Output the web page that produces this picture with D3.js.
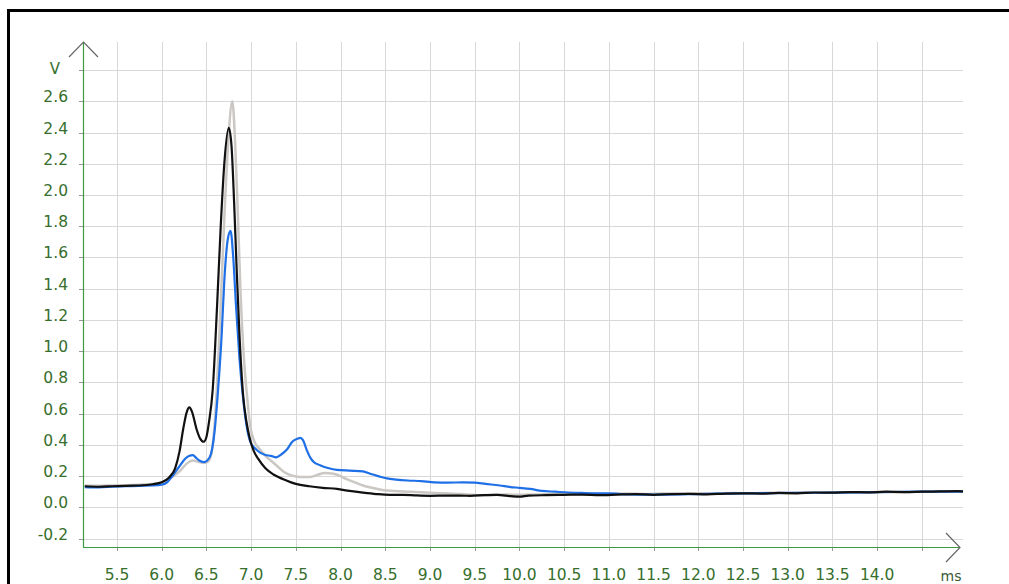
<!DOCTYPE html>
<html>
<head>
<meta charset="utf-8">
<script src="https://cdn.jsdelivr.net/npm/d3@7"></script>
<style>
  body { margin: 0; background: #fff; }
  svg { display: block; }
</style>
</head>
<body>
<svg id="chart" width="1009" height="584"></svg>
<script>
// tick labels
var xTicks = [5.5, 6.0, 6.5, 7.0, 7.5, 8.0, 8.5, 9.0, 9.5, 10.0, 10.5, 11.0, 11.5, 12.0, 12.5, 13.0, 13.5, 14.0];
var xGrid = [5.5, 6.0, 6.5, 7.0, 7.5, 8.0, 8.5, 9.0, 9.5, 10.0, 10.5, 11.0, 11.5, 12.0, 12.5, 13.0, 13.5, 14.0, 14.5];
var yTicks = [-0.2, 0.0, 0.2, 0.4, 0.6, 0.8, 1.0, 1.2, 1.4, 1.6, 1.8, 2.0, 2.2, 2.4, 2.6];
var yGrid = [-0.2, 0.0, 0.2, 0.4, 0.6, 0.8, 1.0, 1.2, 1.4, 1.6, 1.8, 2.0, 2.2, 2.4, 2.6, 2.8];

// traces [ms, V]
var grayTrace = [[5.14,0.14],[5.3,0.138],[5.45,0.14],[5.6,0.142],[5.75,0.145],[5.9,0.15],[6.0,0.16],[6.1,0.19],[6.2,0.23],[6.28,0.28],[6.35,0.30],[6.42,0.29],[6.47,0.285],[6.51,0.29],[6.55,0.33],[6.58,0.45],[6.62,0.80],[6.66,1.3],[6.70,1.85],[6.74,2.3],[6.79,2.60],[6.82,2.35],[6.85,1.9],[6.88,1.4],[6.92,0.95],[6.96,0.68],[6.99,0.52],[7.03,0.43],[7.10,0.37],[7.16,0.33],[7.22,0.30],[7.30,0.26],[7.36,0.23],[7.45,0.205],[7.55,0.195],[7.66,0.195],[7.75,0.21],[7.82,0.22],[7.92,0.215],[8.0,0.2],[8.07,0.18],[8.16,0.16],[8.25,0.14],[8.35,0.125],[8.48,0.11],[8.6,0.105],[8.78,0.10],[8.95,0.095],[9.15,0.09],[9.35,0.085],[9.53,0.078],[9.7,0.08],[9.85,0.082],[10.0,0.08],[10.2,0.082],[10.4,0.085],[10.6,0.083],[10.8,0.087],[11.0,0.086],[11.2,0.088],[11.4,0.085],[11.6,0.089],[11.8,0.087],[12.0,0.09],[12.2,0.088],[12.4,0.092],[12.6,0.09],[12.8,0.093],[13.0,0.091],[13.2,0.095],[13.4,0.093],[13.6,0.097],[13.8,0.095],[14.0,0.099],[14.2,0.097],[14.4,0.1],[14.6,0.1],[14.8,0.103],[14.96,0.1]];

var blueTrace = [[5.14,0.13],[5.3,0.128],[5.45,0.132],[5.6,0.135],[5.75,0.138],[5.9,0.14],[6.0,0.145],[6.06,0.16],[6.12,0.2],[6.17,0.24],[6.22,0.28],[6.26,0.31],[6.31,0.33],[6.35,0.335],[6.38,0.32],[6.42,0.30],[6.47,0.29],[6.51,0.30],[6.55,0.34],[6.59,0.48],[6.63,0.75],[6.67,1.1],[6.70,1.45],[6.74,1.72],[6.77,1.77],[6.80,1.6],[6.83,1.3],[6.87,0.95],[6.91,0.70],[6.95,0.52],[6.99,0.42],[7.04,0.38],[7.10,0.35],[7.16,0.335],[7.22,0.33],[7.28,0.32],[7.34,0.34],[7.40,0.37],[7.46,0.42],[7.52,0.44],[7.55,0.445],[7.58,0.43],[7.62,0.37],[7.66,0.32],[7.70,0.29],[7.77,0.27],[7.87,0.25],[7.96,0.24],[8.1,0.235],[8.25,0.23],[8.33,0.215],[8.42,0.20],[8.52,0.185],[8.62,0.178],[8.75,0.172],[8.9,0.168],[9.05,0.16],[9.2,0.158],[9.37,0.16],[9.5,0.158],[9.62,0.15],[9.78,0.14],[9.9,0.13],[10.0,0.125],[10.12,0.118],[10.25,0.105],[10.4,0.10],[10.55,0.095],[10.7,0.092],[10.85,0.09],[11.0,0.09],[11.13,0.085],[11.3,0.082],[11.6,0.082],[12.0,0.085],[12.5,0.09],[13.0,0.092],[13.5,0.094],[14.0,0.097],[14.5,0.1],[14.96,0.1]];

var blackTrace = [[5.14,0.135],[5.3,0.132],[5.45,0.135],[5.6,0.138],[5.75,0.14],[5.9,0.148],[6.0,0.16],[6.08,0.19],[6.15,0.25],[6.2,0.36],[6.24,0.50],[6.28,0.61],[6.31,0.64],[6.34,0.61],[6.39,0.50],[6.43,0.44],[6.47,0.42],[6.5,0.45],[6.53,0.55],[6.57,0.75],[6.62,1.3],[6.66,1.8],[6.70,2.2],[6.75,2.43],[6.78,2.32],[6.81,1.95],[6.84,1.5],[6.87,1.1],[6.91,0.72],[6.95,0.54],[6.99,0.43],[7.03,0.36],[7.08,0.31],[7.16,0.25],[7.25,0.21],[7.36,0.18],[7.5,0.15],[7.65,0.135],[7.8,0.125],[7.96,0.118],[8.1,0.105],[8.25,0.094],[8.4,0.085],[8.55,0.08],[8.7,0.08],[8.85,0.076],[9.0,0.074],[9.2,0.075],[9.45,0.074],[9.6,0.078],[9.75,0.08],[9.9,0.072],[10.0,0.068],[10.1,0.075],[10.3,0.078],[10.5,0.08],[10.7,0.082],[10.9,0.078],[11.1,0.082],[11.3,0.085],[11.5,0.08],[11.7,0.085],[11.9,0.086],[12.1,0.083],[12.3,0.088],[12.5,0.09],[12.7,0.088],[12.9,0.092],[13.1,0.09],[13.3,0.095],[13.5,0.094],[13.7,0.098],[13.9,0.096],[14.1,0.1],[14.3,0.098],[14.5,0.1],[14.7,0.102],[14.9,0.104],[14.96,0.102]];

var svg = d3.select("#chart");
var labelColor = "#366e2c";
var axisGreen = "#3f9a3f";
var fmt = function(d) { return d.toFixed(1); };  // plain hyphen for -0.2

var x = d3.scaleLinear().domain([5.12, 14.96]).range([83, 963]);
var y = d3.scaleLinear().domain([-0.254, 2.98]).range([547, 42]);

// frame
svg.append("line").attr("x1", 7).attr("x2", 1009).attr("y1", 10.5).attr("y2", 10.5)
    .style("stroke", "#000").style("stroke-width", 3);
svg.append("line").attr("x1", 8.5).attr("x2", 8.5).attr("y1", 9).attr("y2", 584)
    .style("stroke", "#000").style("stroke-width", 3);

// grid
var grid = svg.append("g");
grid.selectAll("line.h").data(yGrid).enter().append("line")
    .attr("class", "h")
    .attr("x1", 83).attr("x2", 963)
    .attr("y1", function(d) { return Math.round(y(d)) + 0.5; })
    .attr("y2", function(d) { return Math.round(y(d)) + 0.5; })
    .style("stroke", "#d8d8d8").style("stroke-width", 1);
grid.selectAll("line.v").data(xGrid).enter().append("line")
    .attr("class", "v")
    .attr("y1", 42).attr("y2", 547)
    .attr("x1", function(d) { return Math.round(x(d)) + 0.5; })
    .attr("x2", function(d) { return Math.round(x(d)) + 0.5; })
    .style("stroke", "#d8d8d8").style("stroke-width", 1);

// small tick marks
grid.selectAll("line.xt").data(xGrid).enter().append("line")
    .attr("y1", 547).attr("y2", 551)
    .attr("x1", function(d) { return Math.round(x(d)) + 0.5; })
    .attr("x2", function(d) { return Math.round(x(d)) + 0.5; })
    .style("stroke", "#999");
grid.selectAll("line.yt").data(yGrid).enter().append("line")
    .attr("x1", 79).attr("x2", 83)
    .attr("y1", function(d) { return Math.round(y(d)) + 0.5; })
    .attr("y2", function(d) { return Math.round(y(d)) + 0.5; })
    .style("stroke", "#999");

// traces
var line = d3.line()
    .x(function(d) { return x(d[0]); })
    .y(function(d) { return y(d[1]); })
    .curve(d3.curveMonotoneX);

svg.append("path").datum(grayTrace).attr("d", line)
    .style("fill", "none").style("stroke", "#cbc7c3").style("stroke-width", 2.5);
svg.append("path").datum(blueTrace).attr("d", line)
    .style("fill", "none").style("stroke", "#1f6fe6").style("stroke-width", 2.2);
svg.append("path").datum(blackTrace).attr("d", line)
    .style("fill", "none").style("stroke", "#111").style("stroke-width", 2.2);

// axes lines
svg.append("line").attr("x1", 83.5).attr("x2", 83.5).attr("y1", 42).attr("y2", 547)
    .style("stroke", axisGreen).style("stroke-width", 1.2);
svg.append("line").attr("x1", 83).attr("x2", 960).attr("y1", 547.5).attr("y2", 547.5)
    .style("stroke", axisGreen).style("stroke-width", 1.2);

// arrows
svg.append("path").attr("d", "M69,57 L83.5,42 L98,57")
    .style("fill", "none").style("stroke", "#666").style("stroke-width", 1.2);
svg.append("path").attr("d", "M946,533 L960,547.5 L946,562")
    .style("fill", "none").style("stroke", "#666").style("stroke-width", 1.2);

// labels
var font = "DejaVu Sans, Verdana, sans-serif";
svg.append("g").selectAll("text").data(yTicks).enter().append("text")
    .attr("x", 68)
    .attr("y", function(d) { return y(d) + 1; })
    .attr("text-anchor", "end")
    .style("font-family", font).style("font-size", "15.5px").style("fill", labelColor)
    .text(fmt);

svg.append("g").selectAll("text").data(xTicks).enter().append("text")
    .attr("x", function(d) { return x(d); })
    .attr("y", 580)
    .attr("text-anchor", "middle")
    .style("font-family", font).style("font-size", "15.5px").style("fill", labelColor)
    .text(fmt);

svg.append("text").attr("x", 55).attr("y", 74).attr("text-anchor", "middle")
    .style("font-family", font).style("font-size", "15px").style("fill", labelColor)
    .text("V");
svg.append("text").attr("x", 951).attr("y", 581).attr("text-anchor", "middle")
    .style("font-family", font).style("font-size", "14px").style("fill", "#3a5a3a")
    .text("ms");
</script>
</body>
</html>
